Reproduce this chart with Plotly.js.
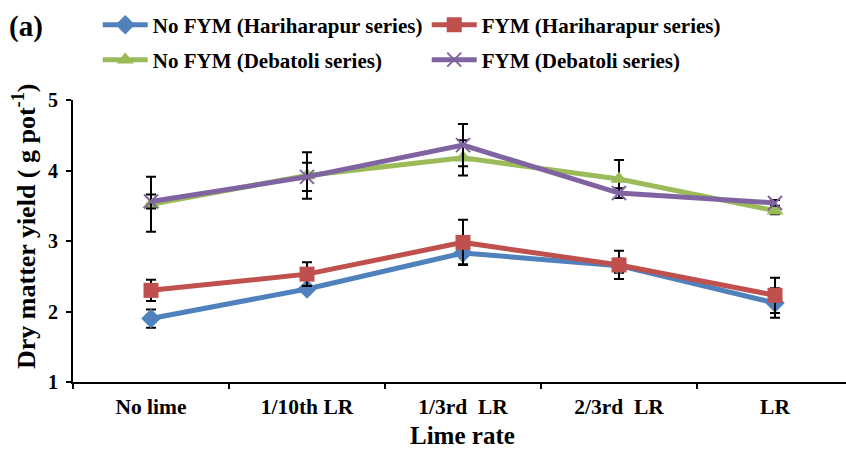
<!DOCTYPE html>
<html>
<head>
<meta charset="utf-8">
<script src="https://cdn.plot.ly/plotly-3.0.1.min.js"></script>
<style>html,body{margin:0;padding:0;background:#fff;}#chart{width:846px;height:451px;}</style>
</head>
<body>
<div id="chart"></div>
<script>
const categories = ["No lime", "1/10th LR", "1/3rd  LR", "2/3rd  LR", "LR"];
const noFymHari = [1.90, 2.32, 2.83, 2.65, 2.12];
const noFymHariErr = [0.13, 0.05, 0.16, 0.10, 0.21];
const fymHari = [2.30, 2.53, 2.98, 2.66, 2.23];
const fymHariErr = [0.15, 0.17, 0.32, 0.20, 0.25];
const noFymDeb = [3.52, 3.93, 4.18, 3.88, 3.43];
const noFymDebErr = [0.39, 0.33, 0.25, 0.27, 0.05];
const fymDeb = [3.56, 3.91, 4.36, 3.68, 3.54];
const fymDebErr = [0.10, 0.20, 0.30, 0.07, 0.04];

const font = "Liberation Serif, Times New Roman, serif";
function tr(name, y, err, color, symbol, legend, mline) {
  return {
    type: "scatter", mode: "lines+markers", name: name, x: categories, y: y,
    legend: legend,
    line: {color: color, width: 5},
    marker: {symbol: symbol, size: symbol === "x-thin" ? 14 : 15, color: color,
             line: mline ? {color: color, width: 2} : {width: 0}},
    error_y: {type: "data", array: err, visible: true, color: "#000", thickness: 2, width: 5}
  };
}
const data = [
  tr("<b>No FYM (Hariharapur series)</b>", noFymHari, noFymHariErr, "#4F81BD", "diamond", "legend"),
  tr("<b>FYM (Hariharapur series)</b>", fymHari, fymHariErr, "#C0504D", "square", "legend"),
  tr("<b>No FYM (Debatoli series)</b>", noFymDeb, noFymDebErr, "#9BBB59", "triangle-up", "legend2"),
  tr("<b>FYM (Debatoli series)</b>", fymDeb, fymDebErr, "#8064A2", "x-thin", "legend2", true)
];
const legendBase = {orientation: "h", xref: "paper", yref: "container", x: 0.032, xanchor: "left", yanchor: "middle",
  font: {family: font, size: 21, color: "#000"}, entrywidth: 269, entrywidthmode: "pixels",
  itemwidth: 45, bgcolor: "rgba(0,0,0,0)", traceorder: "normal"};
const layout = {
  width: 846, height: 451,
  margin: {l: 73, r: 0, t: 100, b: 69},
  paper_bgcolor: "#fff", plot_bgcolor: "#fff",
  showlegend: true,
  legend: Object.assign({}, legendBase, {y: 1 - 25/451}),
  legend2: Object.assign({}, legendBase, {y: 1 - 60/451}),
  xaxis: {
    type: "category", range: [-0.5, 4.455],
    showline: true, linecolor: "#000", linewidth: 2,
    ticks: "outside", tickson: "boundaries", ticklen: 5, tickcolor: "#000", tickwidth: 2,
    showgrid: false, zeroline: false, ticklabelstandoff: 4,
    tickfont: {family: font, size: 21.5, color: "#000", weight: "bold"}
  },
  yaxis: {
    range: [1, 5], dtick: 1, tick0: 1,
    showline: true, linecolor: "#000", linewidth: 2,
    ticks: "outside", ticklen: 5, tickcolor: "#000", tickwidth: 2,
    showgrid: false, zeroline: false, ticklabelstandoff: 4,
    tickfont: {family: font, size: 20, color: "#000", weight: "bold"}
  },
  annotations: [
    {text: "<b>(a)</b>", xref: "paper", yref: "paper", x: (7 - 73) / 773, y: (382 - 27) / 282,
     xanchor: "left", yanchor: "middle", showarrow: false,
     font: {family: font, size: 29, color: "#000"}},
    {text: "<b>Lime rate</b>", xref: "paper", yref: "paper", x: (463 - 73) / 773, y: (382 - 435) / 282,
     xanchor: "center", yanchor: "middle", showarrow: false,
     font: {family: font, size: 25, color: "#000"}},
    {text: "<b>Dry matter yield ( g pot<sup>-1</sup>)</b>", xref: "paper", yref: "paper", textangle: -90,
     x: (24 - 73) / 773, y: (382 - 227) / 282, xanchor: "center", yanchor: "middle", showarrow: false,
     font: {family: font, size: 26, color: "#000"}}
  ]
};
Plotly.newPlot("chart", data, layout, {displayModeBar: false, staticPlot: true});
</script>
</body>
</html>
